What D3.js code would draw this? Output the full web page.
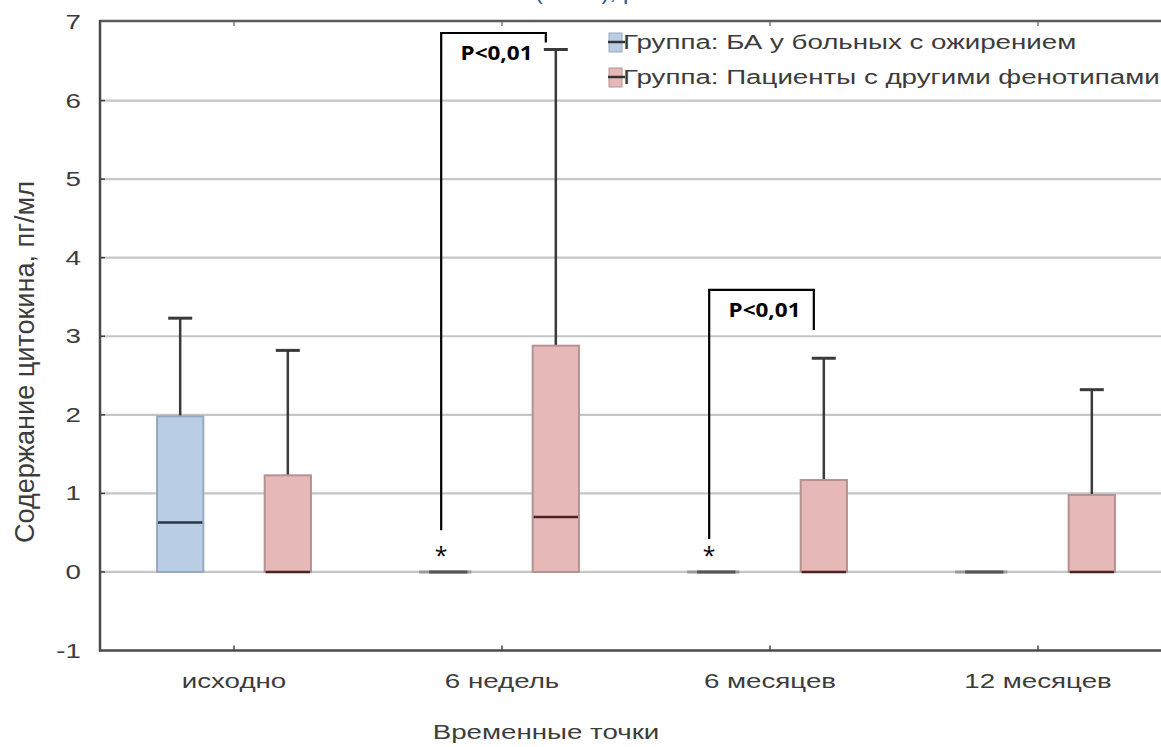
<!DOCTYPE html>
<html>
<head>
<meta charset="utf-8">
<script src="https://cdn.jsdelivr.net/npm/d3@7"></script>
<style>
  html, body { margin: 0; padding: 0; background: #fff; overflow: hidden; }
  svg { display: block; }
</style>
</head>
<body>
<div id="chart"></div>
<script>
// --- data ---
const categories = ["исходно", "6 недель", "6 месяцев", "12 месяцев"];
const groups = ["Группа: БА у больных с ожирением", "Группа: Пациенты с другими фенотипами"];

const obeseMin    = [0, 0, 0, 0];
const obeseQ1     = [0, 0, 0, 0];
const obeseMedian = [0.63, 0, 0, 0];
const obeseQ3     = [1.98, 0, 0, 0];
const obeseMax    = [3.23, 0, 0, 0];

const otherMin    = [0, 0, 0, 0];
const otherQ1     = [0, 0, 0, 0];
const otherMedian = [0, 0.7, 0, 0];
const otherQ3     = [1.23, 2.88, 1.17, 0.98];
const otherMax    = [2.82, 6.65, 2.72, 2.32];

const yTicks = [-1, 0, 1, 2, 3, 4, 5, 6, 7];

// significance marks: bracket top, left foot, right foot, asterisk (value units)
const brackets = [
  { cat: "6 недель",  top: 6.86, leftEnd: 0.53, rightEnd: 6.74, star: 0.24 },
  { cat: "6 месяцев", top: 3.59, leftEnd: 0.42, rightEnd: 3.08, star: 0.24 }
];
const pLabel = "P<0,01";
const xTitle = "Временные точки";
const yTitle = "Содержание цитокина, пг/мл";

// --- setup ---
const W = 1161, H = 747;
const margin = { left: 100, top: 22, bottom: 650.5 };
const STRETCH = 1.32;  // source picture is stretched sideways
const FONT = "Liberation Sans, Arial, sans-serif";

const svg = d3.select("#chart").append("svg")
  .attr("width", W).attr("height", H);

const x = d3.scaleBand().domain(categories).range([margin.left, 1172]);
const xs = d3.scaleBand().domain(groups).range([0, x.bandwidth()])
  .paddingInner(0.57).paddingOuter(0.53);
const y = d3.scaleLinear().domain([-1, 7]).range([margin.bottom, margin.top]);

const boxes = [
  { g: groups[0], fill: "#b9cde5", stroke: "#98a9bd", med: "#2c3440",
    min: obeseMin, q1: obeseQ1, med50: obeseMedian, q3: obeseQ3, max: obeseMax },
  { g: groups[1], fill: "#e6b9b8", stroke: "#b49392", med: "#4a2222",
    min: otherMin, q1: otherQ1, med50: otherMedian, q3: otherQ3, max: otherMax }
];

function label(sel, tx, ty, anchor) {
  return sel.append("text")
    .attr("transform", `translate(${tx},${ty}) scale(${STRETCH},1)`)
    .attr("text-anchor", anchor || "middle")
    .attr("font-family", FONT)
    .attr("font-size", 21)
    .attr("fill", "#3c3c3c");
}

// --- title stub cut by the top edge (as in the source) ---
svg.append("text")
  .attr("x", 555).attr("y", -1)
  .attr("text-anchor", "middle")
  .attr("font-family", FONT)
  .attr("font-size", 24)
  .attr("fill", "#2f5597")
  .text("ИЛ-6 (пг/мл), р");

// --- grid ---
svg.append("g").selectAll("line")
  .data(yTicks.filter(d => d >= 0 && d < 7))
  .join("line")
  .attr("x1", margin.left).attr("x2", 1172)
  .attr("y1", d => y(d)).attr("y2", d => y(d))
  .attr("stroke", "#c6c6c6").attr("stroke-width", 2.2);

// frame
svg.append("line").attr("x1", margin.left).attr("x2", 1172)
  .attr("y1", y(7) - 1).attr("y2", y(7) - 1)
  .attr("stroke", "#5a5a5a").attr("stroke-width", 2.5);
svg.append("line").attr("x1", margin.left).attr("x2", margin.left)
  .attr("y1", y(7) - 2).attr("y2", y(-1) + 1)
  .attr("stroke", "#4a4a4a").attr("stroke-width", 2.5);
svg.append("line").attr("x1", margin.left - 1).attr("x2", 1172)
  .attr("y1", y(-1)).attr("y2", y(-1))
  .attr("stroke", "#4a4a4a").attr("stroke-width", 2.5);

// small ticks
svg.append("g").selectAll("line").data(categories).join("line")
  .attr("x1", d => x(d) + x.bandwidth() / 2).attr("x2", d => x(d) + x.bandwidth() / 2)
  .attr("y1", y(-1)).attr("y2", y(-1) - 5)
  .attr("stroke", "#444").attr("stroke-width", 1.5);
svg.append("g").selectAll("line").data(categories).join("line")
  .attr("x1", d => x(d) + x.bandwidth() / 2).attr("x2", d => x(d) + x.bandwidth() / 2)
  .attr("y1", y(7)).attr("y2", y(7) + 4)
  .attr("stroke", "#777").attr("stroke-width", 1.5);
svg.append("g").selectAll("line").data(yTicks.slice(1, -1)).join("line")
  .attr("x1", margin.left).attr("x2", margin.left + 5)
  .attr("y1", d => y(d)).attr("y2", d => y(d))
  .attr("stroke", "#444").attr("stroke-width", 1.5);

// y tick labels
const yl = svg.append("g");
yTicks.forEach(t => {
  label(yl, 81, y(t) + 7, "end").text(t);
});

// x tick labels
const xl = svg.append("g");
categories.forEach(c => {
  label(xl, x(c) + x.bandwidth() / 2, 688).text(c);
});

// axis titles
label(svg, 546, 739).text(xTitle);
svg.append("text")
  .attr("transform", `translate(34,362) scale(${STRETCH},1) rotate(-90)`)
  .attr("text-anchor", "middle")
  .attr("font-family", FONT)
  .attr("font-size", 21)
  .attr("fill", "#3c3c3c")
  .attr("textLength", 362).attr("lengthAdjust", "spacingAndGlyphs")
  .text(yTitle);

// --- boxes ---
const bw = xs.bandwidth();
boxes.forEach(b => {
  const g = svg.append("g");
  categories.forEach((c, i) => {
    const x0 = x(c) + xs(b.g);
    const cx = x0 + bw / 2;
    // whisker
    if (b.max[i] > b.q3[i]) {
      g.append("line").attr("x1", cx).attr("x2", cx)
        .attr("y1", y(b.q3[i])).attr("y2", y(b.max[i]))
        .attr("stroke", "#3a3a3a").attr("stroke-width", 2.5);
      g.append("line").attr("x1", cx - 12).attr("x2", cx + 12)
        .attr("y1", y(b.max[i])).attr("y2", y(b.max[i]))
        .attr("stroke", "#3a3a3a").attr("stroke-width", 3);
    }
    const h = y(b.q1[i]) - y(b.q3[i]);
    if (h > 0) {
      g.append("rect").attr("x", x0).attr("y", y(b.q3[i]))
        .attr("width", bw).attr("height", h)
        .attr("fill", b.fill).attr("stroke", b.stroke).attr("stroke-width", 2);
      g.append("line").attr("x1", x0 + 1).attr("x2", x0 + bw - 1)
        .attr("y1", y(b.med50[i])).attr("y2", y(b.med50[i]))
        .attr("stroke", b.med).attr("stroke-width", 2.5);
    } else {
      // collapsed box: all values equal
      g.append("line").attr("x1", x0 - 6).attr("x2", x0 + bw)
        .attr("y1", y(b.med50[i])).attr("y2", y(b.med50[i]))
        .attr("stroke", "#9a9a9a").attr("stroke-width", 3);
      g.append("line").attr("x1", x0 + 4).attr("x2", x0 + bw - 4)
        .attr("y1", y(b.med50[i])).attr("y2", y(b.med50[i]))
        .attr("stroke", "#555").attr("stroke-width", 3);
    }
  });
});

// --- legend ---
const leg = svg.append("g");
boxes.forEach((b, i) => {
  const ly = 33 + i * 35;
  leg.append("rect").attr("x", 609).attr("y", ly).attr("width", 13).attr("height", 19)
    .attr("fill", b.fill).attr("stroke", b.stroke).attr("stroke-width", 1);
  leg.append("line").attr("x1", 608).attr("x2", 625)
    .attr("y1", ly + 9).attr("y2", ly + 9)
    .attr("stroke", "#333").attr("stroke-width", 2.5);
  label(leg, 623, ly + 16, "start").text(b.g);
});

// --- significance brackets ---
const sig = svg.append("g");
brackets.forEach(br => {
  const lx = x(br.cat) + xs(groups[0]) + bw / 2 - 7;
  const rx = x(br.cat) + xs(groups[1]) + bw / 2 - 10;
  sig.append("path")
    .attr("d", `M${lx},${y(br.leftEnd)}V${y(br.top)}H${rx}V${y(br.rightEnd)}`)
    .attr("fill", "none").attr("stroke", "#000").attr("stroke-width", 2.2);
  sig.append("text")
    .attr("x", (lx + rx) / 2 + 3).attr("y", y(br.top) + 27)
    .attr("text-anchor", "middle")
    .attr("font-family", "Open Sans, Liberation Sans, sans-serif")
    .attr("font-weight", "bold").attr("font-size", 19)
    .attr("textLength", 72).attr("lengthAdjust", "spacingAndGlyphs")
    .attr("fill", "#000")
    .text(pLabel);
  sig.append("text")
    .attr("x", lx).attr("y", y(br.star) + 11)
    .attr("text-anchor", "middle")
    .attr("font-family", "Open Sans, Liberation Sans, sans-serif")
    .attr("font-size", 23).attr("fill", "#000")
    .text("*");
});
</script>
</body>
</html>
